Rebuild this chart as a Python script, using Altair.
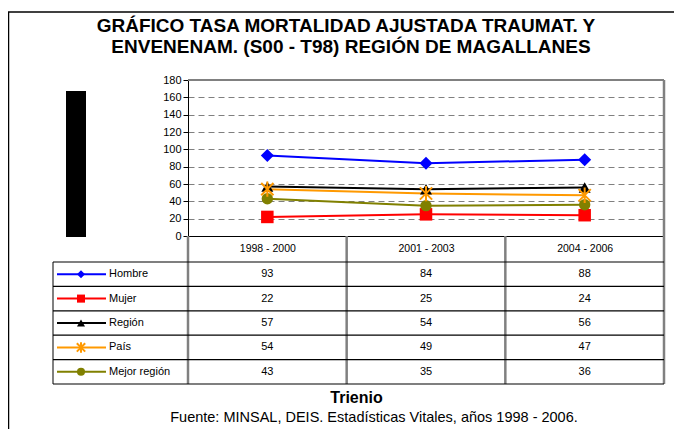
import altair as alt
import pandas as pd

# ---- data ----
trienios = ["1998 - 2000", "2001 - 2003", "2004 - 2006"]
series = ["Hombre", "Mujer", "Región", "País", "Mejor región"]
hombre = [93, 84, 88]
mujer = [22, 25, 24]
region = [57, 54, 56]
pais = [54, 49, 47]
mejor = [43, 35, 36]
y_ticks = [0, 20, 40, 60, 80, 100, 120, 140, 160, 180]

title_lines = ["GRÁFICO TASA MORTALIDAD AJUSTADA TRAUMAT. Y",
               "ENVENENAM. (S00 - T98) REGIÓN DE MAGALLANES"]
x_title = "Trienio"
source_note = "Fuente: MINSAL, DEIS. Estadísticas Vitales, años 1998 - 2006."

# ---- styles ----
colors = ["#0000FF", "#FF0000", "#000000", "#FF9900", "#808000"]
ASTER = "M-1,-1L1,1M-1,1L1,-1M0,-1.25L0,1.25"
FONT = "Liberation Sans"
GRAY = "#808080"

values = [hombre, mujer, region, pais, mejor]
df = pd.DataFrame([{"serie": s, "trienio": t, "valor": v}
                   for s, vals in zip(series, values)
                   for t, v in zip(trienios, vals)])
ldf = pd.DataFrame({"serie": series})
one = pd.DataFrame({"k": [0]})

W, H = 476, 156
ROW_TOP, ROW_H = 182, 24.4
ROW_BOTTOM = ROW_TOP + ROW_H * len(series)
COL_W = W / 3

color_enc = alt.Color("serie:N", scale=alt.Scale(domain=series, range=colors), legend=None)
no_pais = [s for s in series if s != "País"]
shape_scale = alt.Scale(domain=no_pais, range=["diamond", "square", "triangle-up", "circle"])

x_enc = alt.X(
    "trienio:N",
    sort=trienios,
    scale=alt.Scale(type="point", domain=trienios, padding=0.5),
    axis=alt.Axis(
        title=x_title, labelAngle=0, ticks=False, tickSize=0, labelPadding=7,
        labelFontSize=10.5, labelColor="#000", domainColor="#000", domainWidth=1.2,
        grid=False, titleFontSize=16, titleFontWeight="bold", titleColor="#000",
        titleX=168, titleY=161, titleBaseline="middle", titleAlign="center",
    ),
)
y_scale = alt.Scale(domain=[0, 180], nice=False)
y_axis_enc = alt.Y(
    "valor:Q", scale=y_scale,
    axis=alt.Axis(values=y_ticks, title=None, grid=True, gridDash=[6, 4], gridColor=GRAY,
                  gridWidth=1, labelFontSize=11, labelPadding=2, labelColor="#000",
                  tickSize=5, tickColor="#000", domainColor="#000"),
)
y_plain = alt.Y("valor:Q", scale=y_scale, axis=None)
row_y = alt.Y("serie:N", scale=alt.Scale(type="point", domain=series,
                                         range=[ROW_TOP, ROW_BOTTOM], padding=0.5), axis=None)


def hrule(x1, x2, y, color, w):
    return alt.Chart(one).mark_rule(color=color, strokeWidth=w).encode(
        x=alt.value(x1), x2=alt.value(x2), y=alt.value(y))


def vrule(x, y1, y2, color, w):
    return alt.Chart(one).mark_rule(color=color, strokeWidth=w).encode(
        x=alt.value(x), y=alt.value(y1), y2=alt.value(y2))


decor = [
    vrule(-179.5, -68, 360, "#000", 1.5),
    hrule(-180, W + 12, -68, "#000", 1.5),
    hrule(0, W, 0, GRAY, 2),
    vrule(W, 0, ROW_BOTTOM, GRAY, 2.5),
    vrule(-135, ROW_TOP, ROW_BOTTOM, GRAY, 2),
]
for i in range(3):
    decor.append(vrule(i * COL_W, H, ROW_BOTTOM, GRAY, 2.5))
for k in range(len(series) + 1):
    decor.append(hrule(-135, W, ROW_TOP + k * ROW_H, "#000", 1.2))

box = alt.Chart(one).mark_rect(color="#000").encode(
    x=alt.value(-122), x2=alt.value(-102), y=alt.value(11), y2=alt.value(157))

titles = [
    alt.Chart(one).mark_text(text=title_lines[0], fontSize=19, fontWeight="bold",
                             align="center", baseline="middle", color="#000").encode(
        x=alt.value(158), y=alt.value(-54)),
    alt.Chart(one).mark_text(text=title_lines[1], fontSize=19, fontWeight="bold",
                             align="center", baseline="middle", color="#000").encode(
        x=alt.value(163), y=alt.value(-33)),
    alt.Chart(one).mark_text(text=source_note, fontSize=14.5, align="center",
                             baseline="middle", color="#000").encode(
        x=alt.value(186), y=alt.value(338)),
]

lines = alt.Chart(df).mark_line(strokeWidth=2).encode(x=x_enc, y=y_axis_enc, color=color_enc)
pts = alt.Chart(df).transform_filter(alt.datum.serie != "País").mark_point(
    filled=True, opacity=1).encode(
    x=x_enc, y=y_plain, color=color_enc,
    shape=alt.Shape("serie:N", scale=shape_scale, legend=None),
    size=alt.Size("serie:N", scale=alt.Scale(domain=no_pais, range=[170, 130, 140, 130]), legend=None),
)
ast = alt.Chart(df).transform_filter(alt.datum.serie == "País").mark_point(
    shape=ASTER, filled=False, strokeWidth=2, size=150, color="#FF9900", opacity=1).encode(
    x=x_enc, y=y_plain)

table_txt = alt.Chart(df).mark_text(fontSize=11, baseline="middle", color="#000").encode(
    x=x_enc, y=row_y, text=alt.Text("valor:Q", format="d"))

leg_lines = alt.Chart(ldf).mark_rule(strokeWidth=2).encode(
    x=alt.value(-131), x2=alt.value(-82), y=row_y, color=color_enc)
leg_pts = alt.Chart(ldf).transform_filter(alt.datum.serie != "País").mark_point(
    filled=True, opacity=1, size=65).encode(
    x=alt.value(-107), y=row_y, color=color_enc,
    shape=alt.Shape("serie:N", scale=shape_scale, legend=None))
leg_ast = alt.Chart(ldf).transform_filter(alt.datum.serie == "País").mark_point(
    shape=ASTER, filled=False, strokeWidth=2, size=70, color="#FF9900", opacity=1).encode(
    x=alt.value(-107), y=row_y)
leg_txt = alt.Chart(ldf).mark_text(align="left", baseline="middle", fontSize=11, color="#000").encode(
    x=alt.value(-79), y=row_y, text="serie:N")

chart = alt.layer(
    *decor, box, *titles, table_txt, leg_lines, leg_pts, leg_ast, leg_txt, lines, pts, ast
).resolve_scale(y="independent").properties(
    width=W, height=H,
    padding={"left": 180, "top": 72, "right": 10, "bottom": 193},
    autosize=alt.AutoSizeParams(type="none"),
).configure_view(stroke=None).configure(font=FONT)

chart.save("out.html", embed_options={"renderer": "svg", "actions": False})
